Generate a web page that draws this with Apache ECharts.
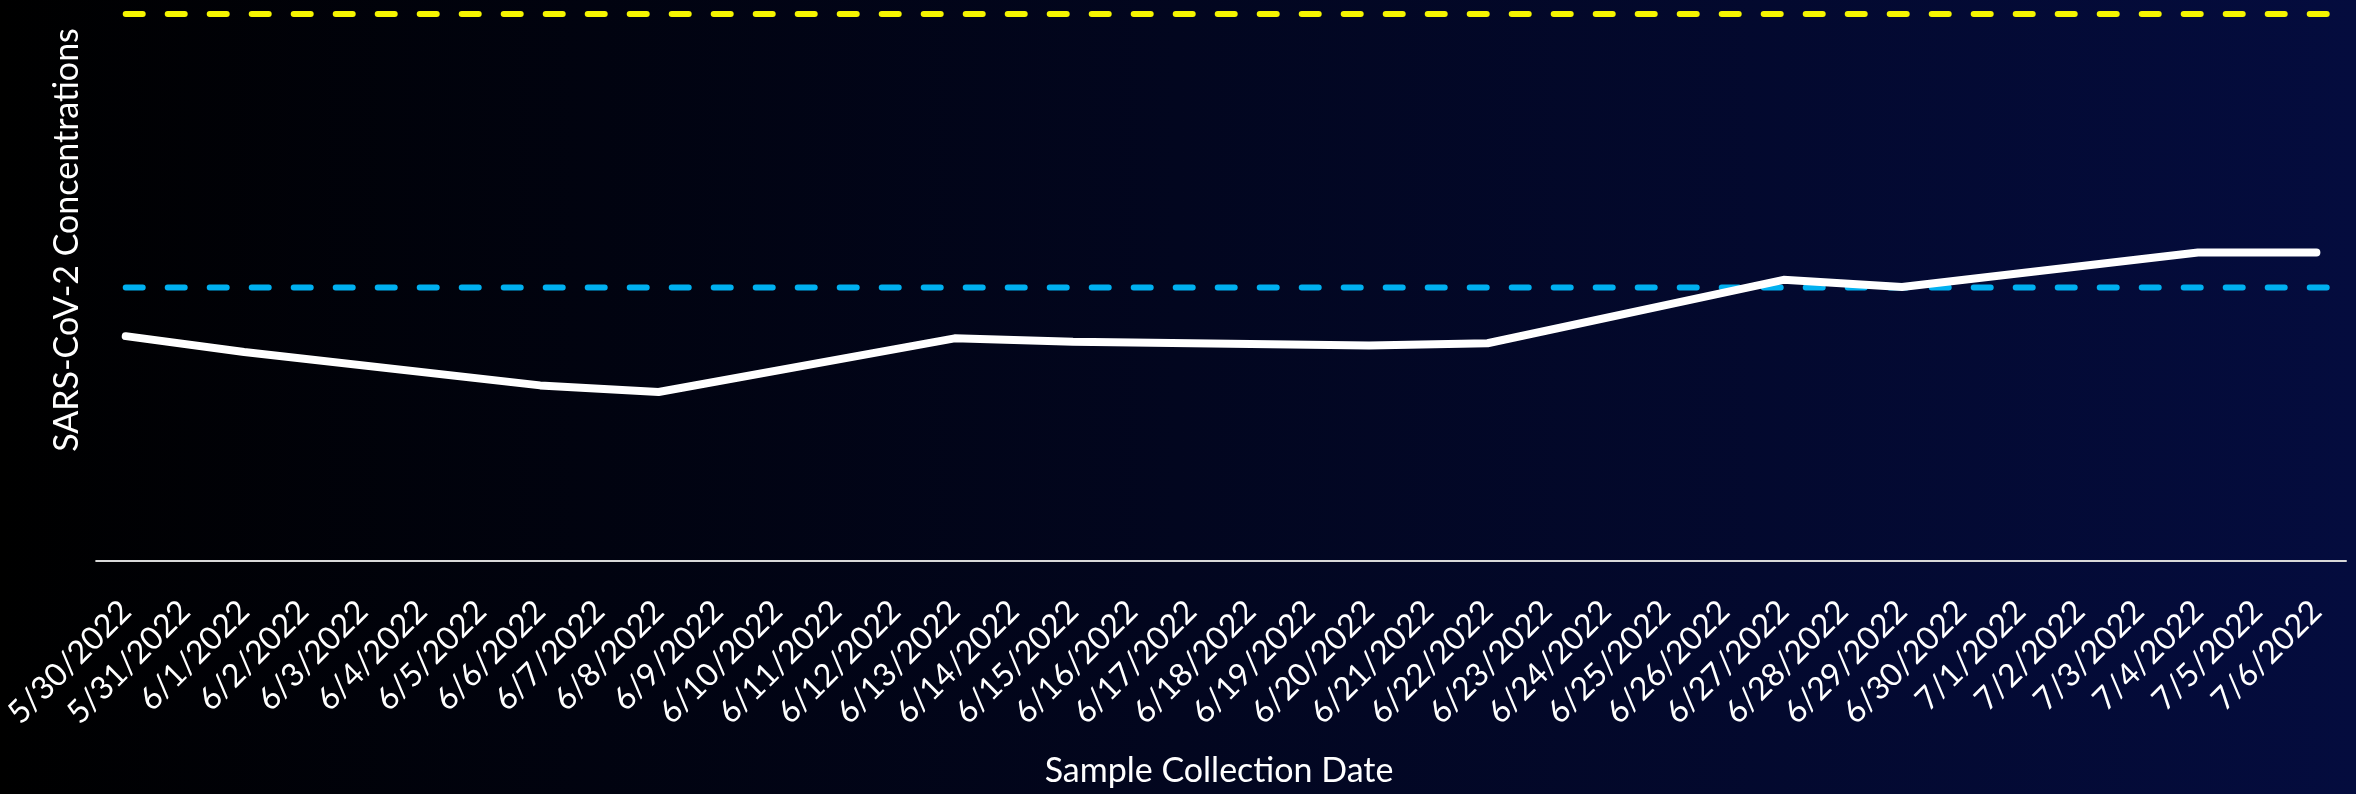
<!DOCTYPE html>
<html>
<head>
<meta charset="utf-8">
<script src="https://cdn.jsdelivr.net/npm/echarts@6/dist/echarts.min.js"></script>
<style>
  html, body { margin: 0; padding: 0; background: #000; }
  #chart { width: 2356px; height: 794px; }
</style>
</head>
<body>
<div id="chart"></div>
<script>
const dates = [
  '5/30/2022', '5/31/2022', '6/1/2022', '6/2/2022', '6/3/2022', '6/4/2022', '6/5/2022',
  '6/6/2022', '6/7/2022', '6/8/2022', '6/9/2022', '6/10/2022', '6/11/2022', '6/12/2022',
  '6/13/2022', '6/14/2022', '6/15/2022', '6/16/2022', '6/17/2022', '6/18/2022', '6/19/2022',
  '6/20/2022', '6/21/2022', '6/22/2022', '6/23/2022', '6/24/2022', '6/25/2022', '6/26/2022',
  '6/27/2022', '6/28/2022', '6/29/2022', '6/30/2022', '7/1/2022', '7/2/2022', '7/3/2022',
  '7/4/2022', '7/5/2022', '7/6/2022'
];

// sampled on Mon / Wed, other days empty
const concentration = [
  41.1, null, 38.2, null, null, null, null,
  32.1, null, 30.9, null, null, null, null,
  40.7, null, 40.1, null, null, null, null,
  39.4, null, 39.8, null, null, null, null,
  51.4, null, 50.1, null, null, null, null,
  56.4, null, 56.4
];

const lowThreshold = 50;
const highThreshold = 100;

const chart = echarts.init(document.getElementById('chart'));

const font = 'Lato, "Open Sans", sans-serif';

const option = {
  backgroundColor: new echarts.graphic.LinearGradient(0, 0, 1, 0, [
    { offset: 0, color: '#000000' },
    { offset: 1, color: '#040c3e' }
  ]),
  animation: false,
  grid: { left: 93, right: 10, top: 3, bottom: 233 },
  xAxis: [
    {
      type: 'category',
      data: dates,
      boundaryGap: true,
      axisLine: { lineStyle: { color: '#d9d9d9', width: 2 } },
      axisTick: { show: false },
      axisLabel: {
        interval: 0,
        rotate: 45,
        margin: 45,
        color: '#ffffff',
        fontFamily: font,
        fontSize: 32
      }
    },
    {
      // helper axis so the threshold lines run to the plot edge
      type: 'value',
      min: -0.5,
      max: dates.length - 0.5,
      show: false
    }
  ],
  yAxis: {
    type: 'value',
    min: 0,
    max: 102,
    axisLine: { show: false },
    axisTick: { show: false },
    axisLabel: { show: false },
    splitLine: { show: false }
  },
  graphic: [
    {
      type: 'text',
      x: 67,
      y: 240,
      rotation: Math.PI / 2,
      style: {
        text: 'SARS-CoV-2 Concentrations',
        fill: '#ffffff',
        font: '34px ' + font,
        textAlign: 'center',
        textVerticalAlign: 'middle'
      }
    },
    {
      type: 'text',
      x: 1219,
      y: 771,
      style: {
        text: 'Sample Collection Date',
        fill: '#ffffff',
        font: '34px ' + font,
        textAlign: 'center',
        textVerticalAlign: 'middle'
      }
    }
  ],
  series: [
    {
      name: 'High',
      type: 'line',
      xAxisIndex: 1,
      symbol: 'none',
      data: [[0, highThreshold], [dates.length - 0.5, highThreshold]],
      lineStyle: { color: '#f5f500', width: 6, type: [17, 25], cap: 'round' },
      z: 2
    },
    {
      name: 'Low',
      type: 'line',
      xAxisIndex: 1,
      symbol: 'none',
      data: [[0, lowThreshold], [dates.length - 0.5, lowThreshold]],
      lineStyle: { color: '#00b0f0', width: 6, type: [17, 25], cap: 'round' },
      z: 2
    },
    {
      name: 'SARS-CoV-2',
      type: 'line',
      data: concentration,
      connectNulls: true,
      symbol: 'none',
      lineStyle: { color: '#ffffff', width: 8, cap: 'round' },
      z: 3
    }
  ]
};

chart.setOption(option);
</script>
</body>
</html>
